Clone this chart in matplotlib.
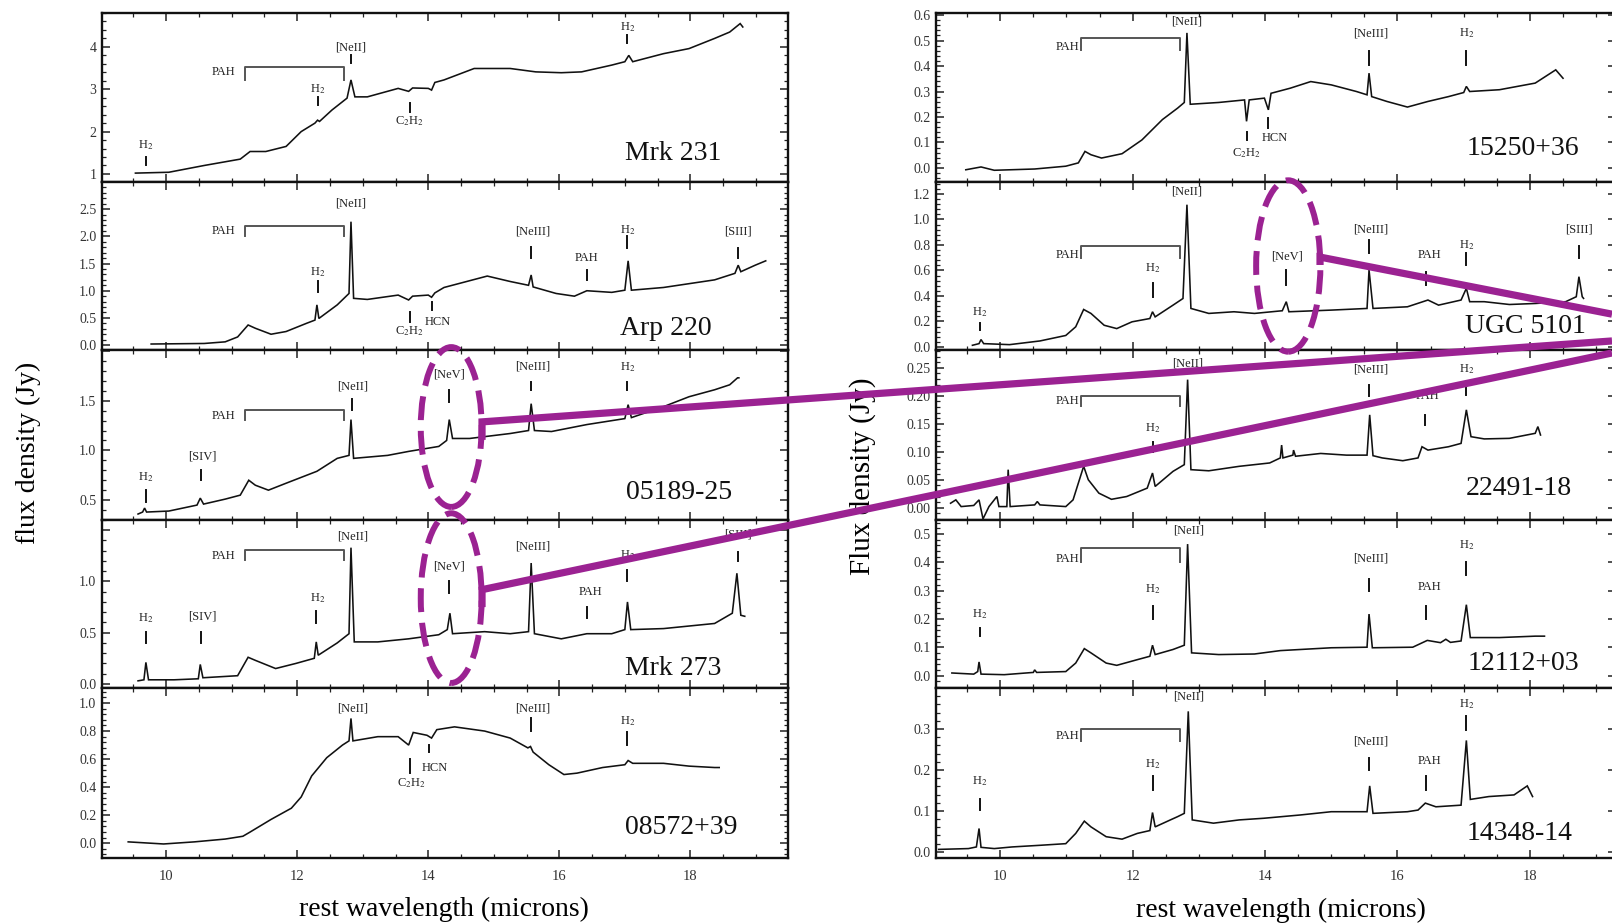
import matplotlib
matplotlib.use("Agg")
import matplotlib.pyplot as plt
from matplotlib.patches import Ellipse
from matplotlib.lines import Line2D
from matplotlib.ticker import MultipleLocator, AutoMinorLocator, FuncFormatter
from matplotlib.transforms import blended_transform_factory

plt.rcParams['font.family'] = ['Liberation Serif', 'DejaVu Serif']
plt.rcParams['mathtext.fontset'] = 'stix'

# ---------------------------------------------------------------- spectra
# rest wavelength (micron) and flux density (Jy) for each source

mrk231_wl = [9.53, 10.04, 10.58, 11.13, 11.28, 11.52, 11.83, 12.06, 12.27, 12.31, 12.34,
             12.53, 12.76, 12.82, 12.88, 13.07, 13.54, 13.7, 13.76, 14.0, 14.05, 14.1,
             14.24, 14.7, 15.25, 15.64, 16.03, 16.34, 16.8, 17.0, 17.06, 17.12, 17.59,
             17.98, 18.37, 18.6, 18.76, 18.8]
mrk231_fx = [1.02, 1.04, 1.2, 1.35, 1.53, 1.53, 1.65, 2.0, 2.2, 2.27, 2.24,
             2.51, 2.79, 3.22, 2.82, 2.82, 3.02, 2.95, 3.03, 3.02, 2.98, 3.16,
             3.22, 3.49, 3.49, 3.41, 3.39, 3.41, 3.57, 3.65, 3.8, 3.65, 3.84,
             3.96, 4.2, 4.35, 4.55, 4.47]

arp220_wl = [9.77, 10.58, 10.9, 11.09, 11.25, 11.36, 11.6, 11.83, 12.14, 12.27, 12.3,
             12.33, 12.61, 12.79, 12.82, 12.86, 13.07, 13.54, 13.7, 13.76, 14.0, 14.05,
             14.1, 14.24, 14.9, 15.25, 15.53, 15.57, 15.6, 15.95, 16.23, 16.42, 16.8,
             17.0, 17.05, 17.1, 17.59, 18.37, 18.68, 18.73, 18.77, 18.99, 19.15]
arp220_fx = [0.02, 0.03, 0.06, 0.15, 0.37, 0.31, 0.2, 0.25, 0.4, 0.46, 0.74,
             0.49, 0.74, 0.95, 2.27, 0.86, 0.84, 0.92, 0.83, 0.9, 0.92, 0.88,
             0.96, 1.06, 1.27, 1.17, 1.1, 1.29, 1.07, 0.95, 0.9, 1.0, 0.97,
             1.01, 1.55, 1.01, 1.06, 1.2, 1.32, 1.47, 1.35, 1.47, 1.55]

i05189_wl = [9.57, 9.64, 9.67, 9.7, 10.04, 10.47, 10.52, 10.57, 10.9, 11.13, 11.26,
             11.36, 11.56, 11.83, 12.3, 12.61, 12.79, 12.82, 12.86, 13.38, 13.7, 14.16,
             14.28, 14.32, 14.37, 14.63, 15.25, 15.53, 15.57, 15.62, 15.88, 16.42, 17.0,
             17.05, 17.1, 17.59, 17.98, 18.37, 18.6, 18.72, 18.74]
i05189_fx = [0.36, 0.38, 0.42, 0.38, 0.39, 0.45, 0.52, 0.46, 0.51, 0.55, 0.7,
             0.65, 0.6, 0.67, 0.79, 0.92, 0.95, 1.31, 0.92, 0.95, 0.99, 1.04,
             1.1, 1.31, 1.12, 1.12, 1.17, 1.2, 1.47, 1.2, 1.19, 1.26, 1.32,
             1.46, 1.33, 1.44, 1.54, 1.61, 1.66, 1.73, 1.73]

mrk273_wl = [9.57, 9.66, 9.69, 9.73, 10.12, 10.49, 10.52, 10.56, 11.09, 11.25, 11.36,
             11.67, 11.98, 12.26, 12.29, 12.32, 12.61, 12.79, 12.82, 12.87, 13.23, 13.7,
             14.16, 14.29, 14.33, 14.37, 14.86, 15.25, 15.53, 15.57, 15.62, 16.03, 16.42,
             16.8, 17.0, 17.04, 17.09, 17.59, 18.37, 18.64, 18.71, 18.77, 18.83]
mrk273_fx = [0.03, 0.04, 0.21, 0.04, 0.04, 0.05, 0.19, 0.06, 0.08, 0.26, 0.23,
             0.15, 0.2, 0.25, 0.41, 0.28, 0.4, 0.49, 1.33, 0.41, 0.41, 0.44,
             0.48, 0.53, 0.69, 0.49, 0.51, 0.49, 0.51, 1.18, 0.49, 0.44, 0.49,
             0.49, 0.53, 0.8, 0.53, 0.54, 0.59, 0.69, 1.08, 0.67, 0.66]

i08572_wl = [9.42, 9.96, 10.43, 10.9, 11.17, 11.28, 11.6, 11.91, 12.06, 12.22, 12.45,
             12.69, 12.79, 12.82, 12.85, 13.23, 13.54, 13.7, 13.77, 13.98, 14.05, 14.13,
             14.4, 14.86, 15.25, 15.52, 15.56, 15.6, 15.84, 16.07, 16.27, 16.66, 17.0,
             17.05, 17.12, 17.59, 17.98, 18.37, 18.44]
i08572_fx = [0.01, -0.005, 0.01, 0.03, 0.05, 0.08, 0.17, 0.25, 0.33, 0.48, 0.61,
             0.7, 0.73, 0.89, 0.73, 0.76, 0.76, 0.7, 0.79, 0.77, 0.75, 0.81,
             0.83, 0.8, 0.75, 0.68, 0.69, 0.65, 0.56, 0.49, 0.5, 0.54, 0.56,
             0.59, 0.57, 0.57, 0.55, 0.54, 0.54]

i15250_wl = [9.48, 9.71, 9.91, 10.52, 10.99, 11.18, 11.28, 11.37, 11.53, 11.84, 12.14,
             12.45, 12.68, 12.78, 12.82, 12.87, 13.3, 13.69, 13.72, 13.76, 13.99, 14.05,
             14.09, 14.38, 14.69, 15.0, 15.38, 15.54, 15.57, 15.61, 15.84, 16.15, 16.46,
             16.77, 17.0, 17.04, 17.09, 17.54, 18.08, 18.39, 18.5]
i15250_fx = [-0.007, 0.004, -0.009, -0.004, 0.007, 0.02, 0.065, 0.052, 0.039, 0.056, 0.11,
             0.19, 0.235, 0.257, 0.53, 0.25, 0.257, 0.267, 0.183, 0.267, 0.274, 0.228,
             0.293, 0.313, 0.339, 0.326, 0.3, 0.287, 0.372, 0.28, 0.261, 0.239, 0.261,
             0.28, 0.296, 0.32, 0.3, 0.307, 0.333, 0.385, 0.352]

ugc5101_wl = [9.58, 9.68, 9.71, 9.75, 10.14, 10.6, 10.99, 11.14, 11.26, 11.37, 11.57,
              11.76, 11.99, 12.26, 12.3, 12.34, 12.61, 12.76, 12.82, 12.88, 13.15, 13.53,
              13.84, 14.26, 14.32, 14.36, 15.0, 15.54, 15.57, 15.63, 16.15, 16.46, 16.62,
              16.96, 17.04, 17.09, 17.31, 17.69, 18.08, 18.54, 18.7, 18.74, 18.79, 18.81]
ugc5101_fx = [0.013, 0.026, 0.058, 0.026, 0.018, 0.047, 0.09, 0.158, 0.294, 0.263, 0.17,
              0.144, 0.197, 0.223, 0.276, 0.236, 0.328, 0.38, 1.116, 0.302, 0.263, 0.276,
              0.263, 0.284, 0.355, 0.276, 0.289, 0.302, 0.604, 0.302, 0.315, 0.368, 0.328,
              0.368, 0.46, 0.355, 0.355, 0.333, 0.341, 0.355, 0.394, 0.551, 0.394, 0.381]

i22491_wl = [9.25, 9.33, 9.41, 9.6, 9.68, 9.74, 9.83, 9.95, 9.98, 10.1, 10.12,
             10.15, 10.52, 10.56, 10.6, 10.99, 11.1, 11.18, 11.26, 11.33, 11.49, 11.68,
             11.91, 12.22, 12.3, 12.34, 12.61, 12.78, 12.83, 12.88, 13.15, 13.61, 14.07,
             14.23, 14.25, 14.27, 14.42, 14.43, 14.46, 14.84, 15.23, 15.54, 15.58, 15.63,
             15.77, 16.08, 16.31, 16.37, 16.46, 16.77, 16.96, 17.04, 17.11, 17.31, 17.69,
             18.08, 18.12, 18.16]
i22491_fx = [0.008, 0.014, 0.002, 0.004, 0.014, -0.02, 0.002, 0.02, 0.002, 0.002, 0.068,
             0.002, 0.005, 0.011, 0.005, 0.002, 0.014, 0.044, 0.074, 0.05, 0.026, 0.015,
             0.02, 0.035, 0.062, 0.038, 0.065, 0.077, 0.229, 0.068, 0.066, 0.074, 0.08,
             0.089, 0.112, 0.089, 0.094, 0.103, 0.092, 0.097, 0.094, 0.094, 0.166, 0.093,
             0.089, 0.084, 0.089, 0.109, 0.103, 0.109, 0.115, 0.175, 0.127, 0.123, 0.124,
             0.133, 0.145, 0.13]

i12112_wl = [9.27, 9.6, 9.66, 9.68, 9.71, 10.06, 10.5, 10.52, 10.55, 10.99, 11.14,
             11.27, 11.37, 11.6, 11.76, 12.07, 12.26, 12.3, 12.34, 12.61, 12.78, 12.83,
             12.89, 13.3, 13.84, 14.23, 15.0, 15.54, 15.57, 15.62, 16.23, 16.45, 16.65,
             16.73, 16.8, 16.96, 17.04, 17.1, 17.54, 18.08, 18.22]
i12112_fx = [0.01, 0.006, 0.015, 0.049, 0.006, 0.004, 0.012, 0.021, 0.012, 0.015, 0.045,
             0.096, 0.081, 0.045, 0.037, 0.057, 0.069, 0.108, 0.075, 0.093, 0.108, 0.465,
             0.081, 0.075, 0.077, 0.089, 0.099, 0.101, 0.218, 0.099, 0.101, 0.125, 0.117,
             0.129, 0.118, 0.123, 0.251, 0.135, 0.135, 0.14, 0.14]

i14348_wl = [9.07, 9.52, 9.64, 9.68, 9.71, 9.91, 10.18, 10.6, 10.99, 11.14, 11.27,
             11.37, 11.6, 11.84, 12.07, 12.26, 12.3, 12.34, 12.57, 12.68, 12.78, 12.84,
             12.9, 13.22, 13.61, 13.98, 14.53, 15.0, 15.54, 15.58, 15.63, 16.15, 16.31,
             16.42, 16.58, 16.96, 17.04, 17.1, 17.38, 17.76, 17.96, 18.04]
i14348_fx = [0.006, 0.008, 0.012, 0.057, 0.011, 0.008, 0.012, 0.016, 0.02, 0.045, 0.075,
             0.061, 0.037, 0.031, 0.045, 0.052, 0.096, 0.061, 0.078, 0.086, 0.094, 0.343,
             0.078, 0.07, 0.078, 0.082, 0.09, 0.098, 0.098, 0.161, 0.094, 0.098, 0.102,
             0.119, 0.11, 0.114, 0.272, 0.128, 0.135, 0.139, 0.161, 0.135]

left_names = ['Mrk 231', 'Arp 220', '05189-25', 'Mrk 273', '08572+39']
right_names = ['15250+36', 'UGC 5101', '22491-18', '12112+03', '14348-14']

left_spectra = [(mrk231_wl, mrk231_fx), (arp220_wl, arp220_fx), (i05189_wl, i05189_fx),
                (mrk273_wl, mrk273_fx), (i08572_wl, i08572_fx)]
right_spectra = [(i15250_wl, i15250_fx), (ugc5101_wl, ugc5101_fx), (i22491_wl, i22491_fx),
                 (i12112_wl, i12112_fx), (i14348_wl, i14348_fx)]

left_ylims = [(0.81, 4.8), (-0.09, 3.0), (0.30, 2.01), (-0.04, 1.6), (-0.105, 1.107)]
right_ylims = [(-0.055, 0.608), (-0.024, 1.294), (-0.022, 0.282), (-0.043, 0.55), (-0.015, 0.40)]
left_ysteps = [1.0, 0.5, 0.5, 0.5, 0.2]
right_ysteps = [0.1, 0.2, 0.05, 0.1, 0.1]
left_yfmt = ['%d', '%.1f', '%.1f', '%.1f', '%.1f']
right_yfmt = ['%.1f', '%.1f', '%.2f', '%.1f', '%.1f']
# highest labelled y tick in each panel
left_ylabel_max = [4, 2.5, 1.5, 1.0, 1.0]
right_ylabel_max = [0.6, 1.2, 0.25, 0.5, 0.3]

H2 = 'H$_2$'
C2H2 = 'C$_2$H$_2$'
# feature labels: text, text x, text y, tick x, tick low, tick high
left_lines = [
    [(H2, 9.69, 1.69, 9.69, 1.22, 1.41), (H2, 12.31, 3.0, 12.31, 2.63, 2.82),
     ('[NeII]', 12.82, 3.98, 12.82, 3.61, 3.8), (C2H2, 13.72, 2.24, 13.72, 2.47, 2.67),
     (H2, 17.04, 4.47, 17.04, 4.09, 4.27)],
    [('[NeII]', 12.82, 2.6, None, 0, 0), (H2, 12.31, 1.35, 12.31, 0.98, 1.17),
     (C2H2, 13.72, 0.25, 13.72, 0.43, 0.61), ('HCN', 14.14, 0.43, 14.06, 0.64, 0.8),
     ('[NeIII]', 15.6, 2.09, 15.57, 1.6, 1.81), ('PAH', 16.42, 1.6, 16.42, 1.2, 1.38),
     (H2, 17.04, 2.12, 17.04, 1.78, 2.0), ('[SIII]', 18.73, 2.09, 18.73, 1.6, 1.78)],
    [(H2, 9.69, 0.73, 9.69, 0.48, 0.6), ('[SIV]', 10.55, 0.94, 10.53, 0.7, 0.8),
     ('[NeII]', 12.85, 1.64, 12.83, 1.41, 1.52), ('[NeV]', 14.32, 1.76, 14.32, 1.49, 1.61),
     ('[NeIII]', 15.6, 1.84, 15.57, 1.61, 1.69), (H2, 17.04, 1.84, 17.04, 1.61, 1.69)],
    [(H2, 9.69, 0.64, 9.69, 0.4, 0.51), ('[SIV]', 10.55, 0.66, 10.53, 0.4, 0.51),
     (H2, 12.31, 0.84, 12.29, 0.59, 0.71), ('[NeII]', 12.85, 1.44, None, 0, 0),
     ('[NeV]', 14.32, 1.15, 14.32, 0.89, 1.0), ('[NeIII]', 15.6, 1.34, None, 0, 0),
     ('PAH', 16.48, 0.9, 16.42, 0.64, 0.75), (H2, 17.04, 1.26, 17.04, 1.0, 1.11),
     ('[SIII]', 18.73, 1.46, 18.73, 1.2, 1.29)],
    [('[NeII]', 12.85, 0.96, None, 0, 0), (C2H2, 13.74, 0.43, 13.72, 0.5, 0.6),
     ('HCN', 14.1, 0.54, 14.01, 0.65, 0.7), ('[NeIII]', 15.6, 0.96, 15.56, 0.8, 0.89),
     (H2, 17.04, 0.87, 17.04, 0.7, 0.79)],
]
right_lines = [
    [('[NeII]', 12.82, 0.574, None, 0, 0), (C2H2, 13.72, 0.059, 13.72, 0.11, 0.143),
     ('HCN', 14.15, 0.117, 14.04, 0.157, 0.196), ('[NeIII]', 15.6, 0.528, 15.57, 0.404, 0.457),
     (H2, 17.04, 0.528, 17.04, 0.404, 0.457)],
    [(H2, 9.69, 0.276, 9.69, 0.131, 0.184), (H2, 12.3, 0.617, 12.3, 0.394, 0.5),
     ('[NeII]', 12.82, 1.221, None, 0, 0), ('[NeV]', 14.33, 0.709, 14.32, 0.486, 0.604),
     ('[NeIII]', 15.6, 0.919, 15.57, 0.735, 0.84), ('PAH', 16.48, 0.722, 16.43, 0.486, 0.59),
     (H2, 17.04, 0.8, 17.04, 0.643, 0.735), ('[SIII]', 18.74, 0.919, 18.74, 0.696, 0.788)],
    [(H2, 12.31, 0.142, 12.31, 0.1, 0.118), ('[NeII]', 12.83, 0.258, None, 0, 0),
     ('[NeIII]', 15.6, 0.247, 15.57, 0.199, 0.22), ('PAH', 16.46, 0.199, 16.42, 0.148, 0.166),
     (H2, 17.04, 0.247, 17.04, 0.202, 0.223)],
    [(H2, 9.69, 0.218, 9.69, 0.14, 0.17), (H2, 12.31, 0.307, 12.31, 0.2, 0.248),
     ('[NeII]', 12.85, 0.513, None, 0, 0), ('[NeIII]', 15.6, 0.414, 15.57, 0.301, 0.343),
     ('PAH', 16.48, 0.313, 16.43, 0.2, 0.248), (H2, 17.04, 0.462, 17.04, 0.355, 0.402)],
    [(H2, 9.69, 0.172, 9.69, 0.102, 0.128), (H2, 12.31, 0.215, 12.31, 0.151, 0.184),
     ('[NeII]', 12.85, 0.379, None, 0, 0), ('[NeIII]', 15.6, 0.27, 15.57, 0.2, 0.229),
     ('PAH', 16.48, 0.221, 16.43, 0.151, 0.184), (H2, 17.04, 0.36, 17.04, 0.298, 0.331)],
]
# PAH complex bracket: text y, bracket top, bracket foot (None = no bracket)
left_pah = [(3.41, 3.53, 3.22), (2.09, 2.19, 2.0), (1.346, 1.41, 1.31), (1.25, 1.31, 1.21), None]
right_pah = [(0.476, 0.509, 0.463), (0.722, 0.793, 0.696), (0.19, 0.199, 0.181),
             (0.414, 0.45, 0.402), (0.282, 0.3, 0.27)]
# source-name anchor (right edge x, centre y)
left_name_xy = [(18.48, 1.49), (18.33, 0.31), (18.64, 0.58), (18.48, 0.15), (18.72, 0.11)]
right_name_xy = [(18.75, 0.078), (18.85, 0.158), (18.64, 0.035), (18.75, 0.045), (18.64, 0.045)]

# ---------------------------------------------------------------- layout
W, H = 1612, 924
fig = plt.figure(figsize=(W / 100, H / 100), dpi=100)
rows = [13, 182, 350, 520, 688, 858]


def rect(x0, x1, y0, y1):
    return [x0 / W, 1 - y1 / H, (x1 - x0) / W, (y1 - y0) / H]


def label_formatter(fmt, vmax):
    return FuncFormatter(lambda v, pos: (fmt % v) if v <= vmax + 1e-9 else '')


def style_axes(ax, xlim, ylim, ystep, yfmt, ymax_label, bottom):
    ax.set_xlim(*xlim)
    ax.set_ylim(*ylim)
    ax.xaxis.set_major_locator(MultipleLocator(2))
    ax.xaxis.set_minor_locator(MultipleLocator(0.5))
    ax.yaxis.set_major_locator(MultipleLocator(ystep))
    ax.yaxis.set_minor_locator(AutoMinorLocator(5))
    ax.yaxis.set_major_formatter(label_formatter(yfmt, ymax_label))
    ax.tick_params(which='both', direction='in', top=True, right=True,
                   labelsize=10, labelcolor='#333333', color='#222222')
    ax.tick_params(which='major', length=6, width=1.1, pad=4)
    ax.tick_params(which='minor', length=3, width=0.9)
    ax.tick_params(axis='x', labelbottom=bottom, labelsize=10.5, pad=9)
    for s in ax.spines.values():
        s.set_linewidth(1.7)
        s.set_color('#111111')


def draw_panel(ax, spec, lines, pah, name, name_xy, pah_cfg):
    wl, fx = spec
    ax.plot(wl, fx, color='#111111', lw=1.15, solid_joinstyle='miter')
    for text, tx, ty, kx, k0, k1 in lines:
        ax.text(tx, ty, text, ha='center', va='center', fontsize=9, color='#222222')
        if kx is not None:
            ax.plot([kx, kx], [k0, k1], color='#111111', lw=1.4)
    if pah is not None:
        ty, ytop, yfoot = pah
        x0, x1, text_right = pah_cfg
        ax.plot([x0, x0, x1, x1], [yfoot, ytop, ytop, yfoot], color='#555555', lw=1.4)
        ax.text(text_right, ty, 'PAH', ha='right', va='center', fontsize=9, color='#222222')
    ax.text(name_xy[0], name_xy[1], name, ha='right', va='center', fontsize=20, color='#111111')


left_axes, right_axes = [], []
for i in range(5):
    ax = fig.add_axes(rect(102, 788, rows[i], rows[i + 1]))
    style_axes(ax, (9.02, 19.49), left_ylims[i], left_ysteps[i], left_yfmt[i],
               left_ylabel_max[i], i == 4)
    draw_panel(ax, left_spectra[i], left_lines[i], left_pah[i], left_names[i],
               left_name_xy[i], (11.2, 12.72, 11.05))
    left_axes.append(ax)

    ax = fig.add_axes(rect(936, 1616, rows[i], rows[i + 1]))
    style_axes(ax, (9.03, 19.30), right_ylims[i], right_ysteps[i], right_yfmt[i],
               right_ylabel_max[i], i == 4)
    draw_panel(ax, right_spectra[i], right_lines[i], right_pah[i], right_names[i],
               right_name_xy[i], (11.22, 12.72, 11.19))
    right_axes.append(ax)

fig.text(28 / W, 1 - 453 / H, 'flux density (Jy)', rotation=90, ha='center', va='center', fontsize=20)
fig.text(863 / W, 1 - 476 / H, 'Flux density (Jy)', rotation=90, ha='center', va='center', fontsize=21)
fig.text(444 / W, 1 - 909 / H, 'rest wavelength (microns)', ha='center', va='center', fontsize=20)
fig.text(1281 / W, 1 - 910 / H, 'rest wavelength (microns)', ha='center', va='center', fontsize=20)

# ---------------------------------------------------------------- [NeV] highlights
PURPLE = '#9b2292'
to_fig = fig.transFigure.inverted()


def fig_pt(ax, x, y):
    return to_fig.transform(ax.transData.transform((x, y)))


# dashed ellipses around the [NeV] 14.3 micron line (x in micron, y in axes fraction)
for ax, yc, h, w in [(left_axes[2], 0.547, 0.94, 0.93), (left_axes[3], 0.535, 1.01, 0.93),
                     (right_axes[1], 0.5, 1.02, 0.97)]:
    tr = blended_transform_factory(ax.transData, ax.transAxes)
    fig.add_artist(Ellipse((14.35, yc), w, h, transform=tr, fill=False, ec=PURPLE,
                           lw=4.3, ls=(0, (4.0, 1.8)), zorder=5))

# connector lines from each highlighted [NeV] line
connectors = [
    (left_axes[2], 14.82, 1.106, 1.287, 0.631),
    (left_axes[3], 14.82, 0.75, 0.92, 0.618),
    (right_axes[1], 14.83, 0.643, 0.705, 0.660),
]
for ax, x, y0, y1, yend in connectors:
    p0 = fig_pt(ax, x, y0)
    p1 = fig_pt(ax, x, y1)
    fig.add_artist(Line2D([p0[0], p1[0], 1.0], [p0[1], p1[1], yend], transform=fig.transFigure,
                          color=PURPLE, lw=5.2, solid_joinstyle='miter',
                          solid_capstyle='butt', zorder=6))

fig.savefig('out.png', dpi=100, facecolor='white')
